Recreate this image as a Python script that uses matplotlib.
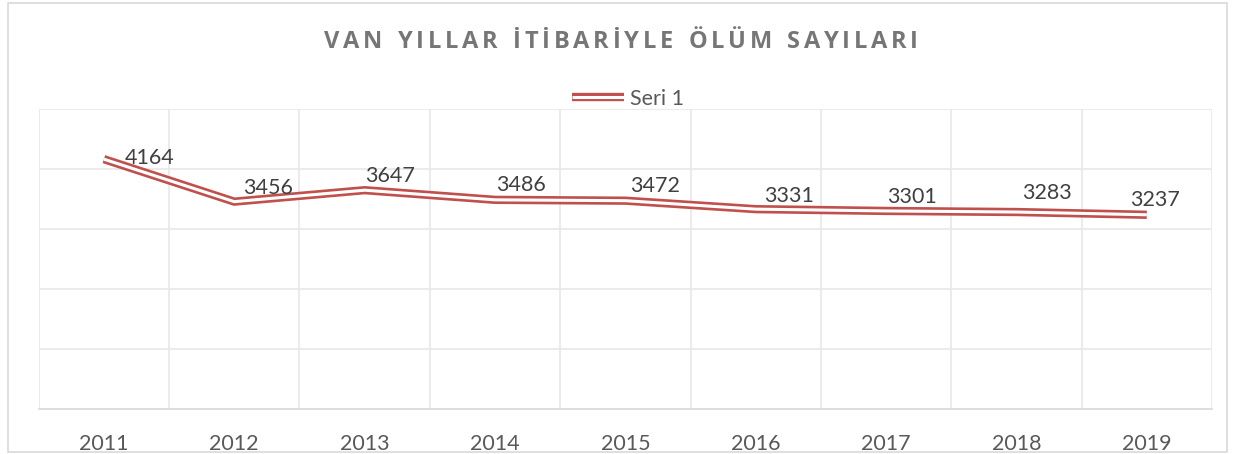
import matplotlib
matplotlib.use("Agg")
import matplotlib.pyplot as plt
from matplotlib.patches import Rectangle
import matplotlib.patheffects as pe

# ---- data ----
years = ["2011", "2012", "2013", "2014", "2015", "2016", "2017", "2018", "2019"]
deaths = [4164, 3456, 3647, 3486, 3472, 3331, 3301, 3283, 3237]
series_name = "Seri 1"
title = "VAN YILLAR İTİBARİYLE ÖLÜM SAYILARI"

# label offsets (pixels, right / up) - styling only
label_dx = [46, 34, 25, 26, 30, 33, 26, 31, 8]
label_dy = [1, 14, 14, 15, 15, 13, 14, 19, 15]

W, H, DPI = 1239, 454, 100
FONT = "Lato"
TITLE_FONT = "Open Sans"
RED = "#C0504D"
GRID = "#E8E8E8"

fig = plt.figure(figsize=(W / DPI, H / DPI), dpi=DPI)
fig.patch.set_facecolor("white")

# outer chart border
fig.add_artist(Rectangle((8 / W, 1 - 452 / H), (1227 - 8) / W, (452 - 3) / H,
                         transform=fig.transFigure, fill=False,
                         edgecolor="#D9D9D9", linewidth=1.2))

left, right, top, bottom = 38.7, 1212, 109, 409
ax = fig.add_axes([left / W, 1 - bottom / H, (right - left) / W, (bottom - top) / H])

x = list(range(1, len(years) + 1))
ax.set_xlim(0.5, len(years) + 0.5)
ax.set_ylim(0, 5000)
ax.set_yticks(range(0, 5001, 1000))
ax.set_yticklabels([])
ax.set_xticks(x)
ax.set_xticklabels(years, fontsize=15.5, color="#595959", family=FONT)
ax.set_xticks([i + 0.5 for i in range(0, len(years) + 1)], minor=True)
ax.tick_params(axis="both", which="both", length=0)
ax.tick_params(axis="x", pad=18)
ax.grid(True, axis="y", which="major", color=GRID, linewidth=1.2)
ax.grid(True, axis="x", which="minor", color=GRID, linewidth=1.2)
ax.set_axisbelow(True)
for s in ["top", "right", "left"]:
    ax.spines[s].set_visible(False)
ax.spines["bottom"].set_color("#D9D9D9")
ax.spines["bottom"].set_linewidth(1.2)

# double (compound) line: white core with red outer stroke
line, = ax.plot(x, deaths, color="white", linewidth=2.2, solid_joinstyle="miter",
                solid_capstyle="butt", zorder=3, label=series_name,
                path_effects=[pe.Stroke(linewidth=6.0, foreground=RED), pe.Normal()])

for xi, v, dx, dy in zip(x, deaths, label_dx, label_dy):
    ax.annotate(str(v), (xi, v), xytext=(dx, dy), textcoords="offset pixels",
                ha="center", va="center", fontsize=15.5, color="#404040",
                family=FONT, zorder=5)

# legend
fig.legend(handles=[line], loc="center", bbox_to_anchor=(628 / W, 1 - 99 / H),
           frameon=False, prop={"family": FONT, "size": 15.5}, labelcolor="#595959",
           handlelength=2.4, handletextpad=0.25, borderpad=0, borderaxespad=0)

# letter-spaced title
renderer = fig.canvas.get_renderer()
tprops = dict(fontsize=17, fontweight="bold", color="#767676", family=TITLE_FONT)
widths = []
for ch in title:
    t = fig.text(0, 0, ch if ch != " " else "n", **tprops)
    w = t.get_window_extent(renderer).width
    if ch == " ":
        w *= 0.5
    widths.append(w)
    t.remove()
t_left, t_right = 324, 918
extra = ((t_right - t_left) - sum(widths)) / (len(title) - 1)
xpos = t_left
for ch, w in zip(title, widths):
    if ch != " ":
        fig.text(xpos / W, 1 - 42 / H, ch, ha="left", va="center", **tprops)
    xpos += w + extra

fig.savefig("out.png", dpi=DPI, facecolor="white")
